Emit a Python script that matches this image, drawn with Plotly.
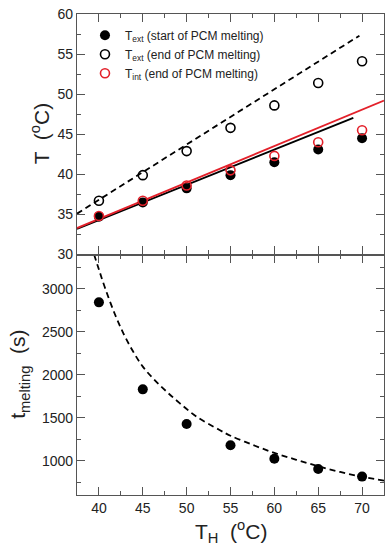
import plotly.graph_objects as go

# ---- data ----
TH = [40, 45, 50, 55, 60, 65, 70]
T_ext_start = [34.7, 36.5, 38.25, 39.9, 41.5, 43.1, 44.5]
T_ext_end = [36.7, 39.9, 42.9, 45.8, 48.6, 51.4, 54.1]
T_int_end = [34.8, 36.7, 38.6, 40.5, 42.3, 44.0, 45.5]

# fitted lines (end points)
fit_ext_end_x = [37.5, 69.7]
fit_ext_end_y = [35.1, 57.3]
fit_ext_start_x = [37.5, 69.0]
fit_ext_start_y = [33.2, 47.05]
fit_int_end_x = [37.5, 72.5]
fit_int_end_y = [33.3, 49.2]

t_melting = [2843, 1830, 1426, 1180, 1022, 903, 814]

# dashed curve in lower panel
curve_x = [39.45, 40.0, 40.7, 41.8, 42.8, 43.9, 45.0, 46.2, 47.7, 49.2, 51.1,
           53.75, 55, 57.5, 60, 62.5, 65, 67.5, 70, 72.5]
curve_y = [3400, 3225, 3010, 2710, 2480, 2270, 2095, 1955, 1805, 1670, 1515,
           1357, 1290, 1185, 1090, 1010, 935, 868, 812, 768]

FONT = "Liberation Sans, Arial, sans-serif"
RED = "#e3202a"
AX = "#555555"

fig = go.Figure()

# top panel lines
fig.add_trace(go.Scatter(x=fit_ext_end_x, y=fit_ext_end_y, mode="lines",
                         line=dict(color="black", width=1.8, dash="6px,4px"),
                         showlegend=False, xaxis="x2", yaxis="y2"))
fig.add_trace(go.Scatter(x=fit_ext_start_x, y=fit_ext_start_y, mode="lines",
                         line=dict(color="black", width=1.8),
                         showlegend=False, xaxis="x2", yaxis="y2"))
fig.add_trace(go.Scatter(x=fit_int_end_x, y=fit_int_end_y, mode="lines",
                         line=dict(color=RED, width=1.8),
                         showlegend=False, xaxis="x2", yaxis="y2"))

# top panel markers
fig.add_trace(go.Scatter(x=TH, y=T_ext_start, mode="markers",
                         name="T<sub>ext</sub> (start of PCM melting)",
                         marker=dict(color="black", size=10, symbol="circle"),
                         xaxis="x2", yaxis="y2"))
fig.add_trace(go.Scatter(x=TH, y=T_ext_end, mode="markers",
                         name="T<sub>ext</sub> (end of PCM melting)",
                         marker=dict(color="black", size=9, symbol="circle-open",
                                     line=dict(width=1.6)),
                         xaxis="x2", yaxis="y2"))
fig.add_trace(go.Scatter(x=TH, y=T_int_end, mode="markers",
                         name="T<sub>int</sub> (end of PCM melting)",
                         marker=dict(color=RED, size=9, symbol="circle-open",
                                     line=dict(width=1.6)),
                         xaxis="x2", yaxis="y2"))

# bottom panel
fig.add_trace(go.Scatter(x=curve_x, y=curve_y, mode="lines", line_shape="spline",
                         line=dict(color="black", width=1.8, dash="6px,4px"),
                         showlegend=False, xaxis="x", yaxis="y"))
fig.add_trace(go.Scatter(x=TH, y=t_melting, mode="markers",
                         marker=dict(color="black", size=10),
                         showlegend=False, xaxis="x", yaxis="y"))

common_axis = dict(showgrid=False, zeroline=False, showline=True, linecolor=AX,
                   linewidth=1.3, mirror="ticks", ticks="inside", ticklen=8,
                   tickwidth=1.3, tickcolor=AX, ticklabeloverflow="allow",
                   tickfont=dict(family=FONT, size=14, color="#222"))

fig.update_layout(
    width=391, height=550,
    margin=dict(l=77, r=6, t=12, b=55),
    plot_bgcolor="white", paper_bgcolor="white",
    font=dict(family=FONT, color="#222"),
    xaxis=dict(**common_axis, range=[37.5, 72.5], dtick=5, tick0=40,
               minor=dict(ticks="inside", ticklen=4, dtick=2.5, tick0=40, tickcolor=AX),
               anchor="y", domain=[0, 1]),
    yaxis=dict(**common_axis, range=[600, 3400], dtick=500, tick0=1000,
               minor=dict(ticks="inside", ticklen=4, dtick=250, tickcolor=AX),
               domain=[0, 0.5], anchor="x"),
    xaxis2=dict(**common_axis, range=[37.5, 72.5], dtick=5, tick0=40,
                minor=dict(ticks="inside", ticklen=4, dtick=2.5, tick0=40, tickcolor=AX),
                showticklabels=False, anchor="y2", matches="x"),
    yaxis2=dict(**common_axis, range=[30, 60], dtick=5,
                minor=dict(ticks="inside", ticklen=4, dtick=2.5, tickcolor=AX),
                domain=[0.5, 1], anchor="x2"),
    legend=dict(x=0.026, y=0.986, xanchor="left", yanchor="top",
                bgcolor="rgba(0,0,0,0)", font=dict(family=FONT, size=12, color="#222"),
                tracegroupgap=0),
    showlegend=True,
)

fig.add_annotation(text="T  (<sup>o</sup>C)", xref="paper", yref="paper",
                   x=0, y=0.75, xshift=-37, textangle=-90, showarrow=False,
                   font=dict(family=FONT, size=21, color="#222"),
                   xanchor="center", yanchor="middle")
fig.add_annotation(text="t<sub>melting</sub>  (s)", xref="paper", yref="paper",
                   x=0, y=0.25, xshift=-58, textangle=-90, showarrow=False,
                   font=dict(family=FONT, size=21, color="#222"),
                   xanchor="center", yanchor="middle")
fig.add_annotation(text="T<sub>H</sub>  (<sup>o</sup>C)", xref="paper", yref="paper",
                   x=0.5, y=0, yshift=-36, showarrow=False,
                   font=dict(family=FONT, size=21, color="#222"),
                   xanchor="center", yanchor="middle")

# remove the default 8px page margin so the figure fills the window exactly
fig.write_html("out.html", config={"displayModeBar": False},
               post_script="document.body.style.margin='0';")
